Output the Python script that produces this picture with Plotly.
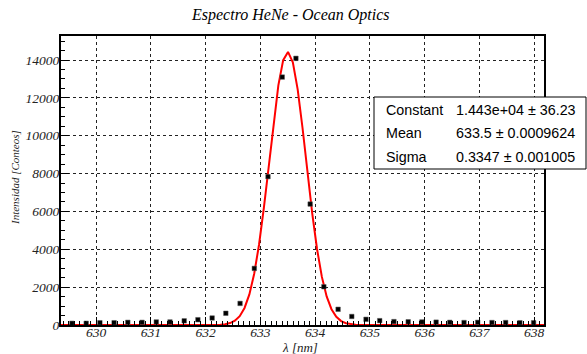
import numpy as np
import plotly.graph_objects as go

# Data
wavelength = [629.56, 629.82, 630.07, 630.33, 630.58, 630.84, 631.10, 631.35, 631.61, 631.86,
              632.12, 632.37, 632.63, 632.89, 633.14, 633.40, 633.65, 633.91, 634.16, 634.42,
              634.67, 634.93, 635.18, 635.44, 635.70, 635.95, 636.21, 636.46, 636.72, 636.97,
              637.23, 637.48, 637.74, 637.99]
counts = [90, 90, 120, 120, 140, 140, 160, 160, 220, 280,
          370, 620, 1140, 2990, 7840, 13100, 14090, 6390, 2020, 830,
          450, 300, 230, 180, 170, 160, 150, 140, 130, 140,
          130, 130, 120, 120]

fit_constant = 1.443e4
fit_mean = 633.5
fit_sigma = 0.3347
stat_labels = ["Constant", "Mean", "Sigma"]
stat_values = ["1.443e+04 \u00b1 36.23", "633.5 \u00b1 0.0009624", "0.3347 \u00b1 0.001005"]

x_ticks = [630, 631, 632, 633, 634, 635, 636, 637, 638]
y_ticks = [0, 2000, 4000, 6000, 8000, 10000, 12000, 14000]

x_range = [629.36, 638.18]
y_range = [0, 15270]

xf = np.linspace(x_range[0], x_range[1], 101)
yf = fit_constant * np.exp(-0.5 * ((xf - fit_mean) / fit_sigma) ** 2)

W, H = 587, 354
ml, mr, mt, mb = 61, 43, 36, 29
pw = W - ml - mr
ph = H - mt - mb

def px2x(px):
    return (px - ml) / pw

def py2y(py):
    return (H - mb - py) / ph

serif = "Liberation Serif"
sans = "Liberation Sans"

fig = go.Figure()
fig.add_trace(go.Scatter(x=xf, y=yf, mode="lines",
                         line=dict(color="#ff0000", width=2), hoverinfo="skip",
                         showlegend=False))
fig.add_trace(go.Scatter(x=wavelength, y=counts, mode="markers",
                         marker=dict(symbol="square", size=4.5, color="black",
                                     line=dict(color="#555555", width=0.5)),
                         showlegend=False))

axis_common = dict(showline=True, linecolor="black", linewidth=2, mirror=True,
                   ticks="inside", tickcolor="black", showgrid=True,
                   gridcolor="#222222", griddash="dot", gridwidth=1,
                   zeroline=False, automargin=False,
                   tickfont=dict(family=serif, size=13.5, color="#222222", style="italic"))

fig.update_layout(
    width=W, height=H,
    margin=dict(l=ml, r=mr, t=mt, b=mb, pad=0),
    paper_bgcolor="white", plot_bgcolor="white",
    xaxis=dict(range=x_range, tickmode="array", tickvals=x_ticks,
               ticktext=[str(v) for v in x_ticks],
               ticklen=8, ticklabelstandoff=-6,
               minor=dict(dtick=0.1, ticklen=4, ticks="inside", tickcolor="black",
                          showgrid=False),
               **axis_common),
    yaxis=dict(range=y_range, tickmode="array", tickvals=y_ticks,
               ticktext=[str(v) for v in y_ticks],
               ticklen=8, ticklabelstandoff=-3,
               minor=dict(dtick=500, ticklen=4, ticks="inside", tickcolor="black",
                          showgrid=False),
               **axis_common),
)

# Axis titles
fig.add_annotation(text="\u03bb [nm]", xref="paper", yref="paper",
                   x=px2x(300), y=py2y(347), showarrow=False,
                   xanchor="center", yanchor="middle",
                   font=dict(family=serif, size=13, color="#222222", style="italic"))
fig.add_annotation(text="Intensidad [Conteos]", xref="paper", yref="paper",
                   x=px2x(15), y=py2y(178), showarrow=False, textangle=-90,
                   xanchor="center", yanchor="middle",
                   font=dict(family=serif, size=11, color="#222222", style="italic"))

fig.add_annotation(text="Espectro HeNe - Ocean Optics", xref="paper", yref="paper",
                   x=px2x(290), y=py2y(15), showarrow=False,
                   xanchor="center", yanchor="middle",
                   font=dict(family=serif, size=16, color="black", style="italic"))

# Stats box
fig.add_shape(type="rect", xref="paper", yref="paper",
              x0=px2x(374), x1=px2x(586), y0=py2y(169), y1=py2y(97),
              line=dict(color="black", width=1), fillcolor="white", layer="above")
row_y = [110, 133, 157]
for lab, val, ry in zip(stat_labels, stat_values, row_y):
    fig.add_annotation(text=lab, xref="paper", yref="paper", x=px2x(384), y=py2y(ry),
                       showarrow=False, xanchor="left", yanchor="middle",
                       font=dict(family=sans, size=14.3, color="black"))
    fig.add_annotation(text=val, xref="paper", yref="paper", x=px2x(454), y=py2y(ry),
                       showarrow=False, xanchor="left", yanchor="middle",
                       font=dict(family=sans, size=14.3, color="black"))

fig.write_html("out.html")
